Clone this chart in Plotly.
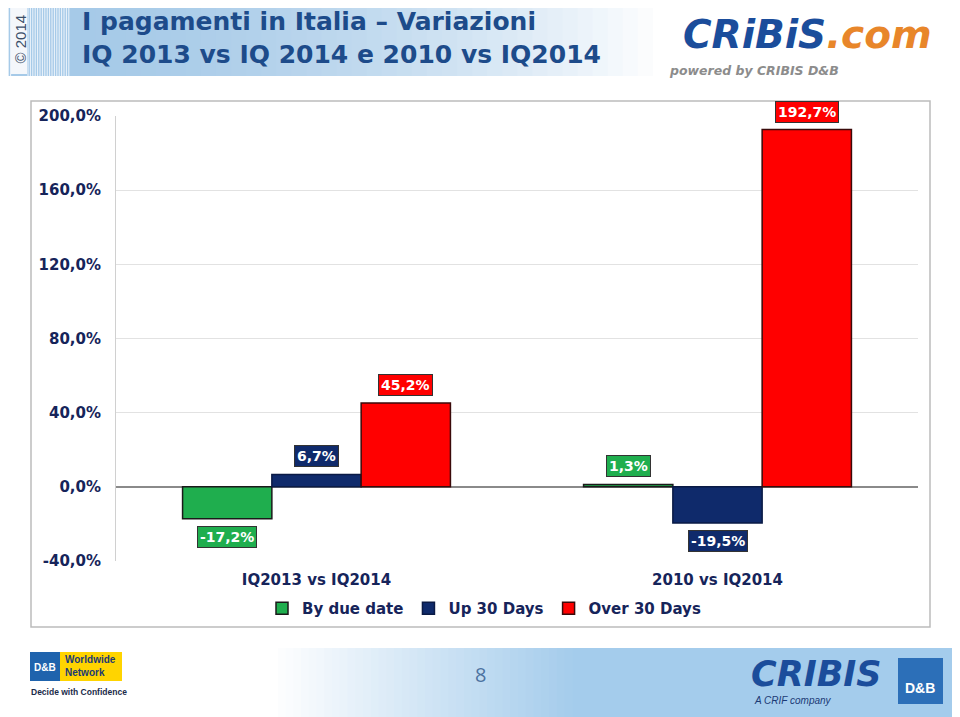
import plotly.graph_objects as go

# ---------------- data ----------------
categories = ["IQ2013 vs IQ2014", "2010 vs IQ2014"]
series_names = ["By due date", "Up 30 Days", "Over 30 Days"]
by_due_date = [-17.2, 1.3]
up_30_days = [6.7, -19.5]
over_30_days = [45.2, 192.7]
y_ticks = [-40, 0, 40, 80, 120, 160, 200]

title_line1 = "I pagamenti in Italia – Variazioni"
title_line2 = "IQ 2013 vs IQ 2014 e 2010 vs IQ2014"
page_number = "8"


def pct(v):
    return f"{v:.1f}%".replace(".", ",")


y_tick_text = [pct(v) for v in y_ticks]

# ---------------- styling ----------------
series_values = [by_due_date, up_30_days, over_30_days]
colors = ["#1fae4e", "#0f2a6b", "#ff0000"]
outlines = ["#1a1a1a", "#0a1a45", "#3a0a0a"]
NAVY = "#16245a"
LABEL_FONT = "DejaVu Sans"

OFF = 8                      # page body margin of the browser
W, H = 960, 717
L, R, T, B = 116, 918, 116, 561   # plot area in page pixels
BARGAP = 0.332


def px(x):
    return (x - L) / (R - L)


def py(y):
    return (B - y) / (B - T)


fig = go.Figure()
for name, vals, c, oc in zip(series_names, series_values, colors, outlines):
    fig.add_bar(x=categories, y=vals, name=name,
                marker=dict(color=c, line=dict(color=oc, width=1.5)))

annotations = []
w = (1 - BARGAP) / 3
for j, (vals, c) in enumerate(zip(series_values, colors)):
    for i, v in enumerate(vals):
        annotations.append(dict(
            x=i + (j - 1) * w, y=v, xref="x", yref="y",
            text=f"<b>{pct(v)}</b>", showarrow=False,
            yanchor="bottom" if v >= 0 else "top",
            yshift=7 if v >= 0 else -7,
            font=dict(family=LABEL_FONT, size=14, color="white"),
            bgcolor=c, bordercolor="#333333", borderwidth=1, borderpad=2,
        ))


def rect(x0, x1, y0, y1, fill, line=None, layer="below"):
    return dict(type="rect", xref="paper", yref="paper",
                x0=px(x0), x1=px(x1), y0=py(y1), y1=py(y0),
                line=line or dict(width=0), fillcolor=fill, layer=layer)


shapes = []
# header gradient band
x0, x1, n = 5, 668, 44
c0 = (166, 202, 232)
for k in range(n):
    t = k / (n - 1)
    f = max(0.0, (t - 0.05) / 0.95) ** 1.8
    col = tuple(int(c0[m] + (255 - c0[m]) * f) for m in range(3))
    shapes.append(rect(x0 + (x1 - x0) * k / n, x0 + (x1 - x0) * (k + 1) / n + 1, 3, 76,
                       f"rgb{col}"))
# stripes around the copyright mark
for k in range(3):
    xx = 6 + k * 2.3
    shapes.append(dict(type="line", xref="paper", yref="paper", x0=px(xx), x1=px(xx),
                       y0=py(76), y1=py(3), line=dict(color="#eef4fb", width=1), layer="below"))
for k in range(18):
    xx = 28 + k * 2.4
    shapes.append(dict(type="line", xref="paper", yref="paper", x0=px(xx), x1=px(xx),
                       y0=py(76), y1=py(3), line=dict(color="#eef4fb", width=1), layer="below"))
shapes.append(rect(11, 27, 5, 74, "#f4f7fb"))
# footer gradient band
fx0, fx1, n = 270, 580, 40
c1 = (164, 204, 236)
for k in range(n):
    t = k / (n - 1)
    col = tuple(int(255 + (c1[m] - 255) * t) for m in range(3))
    shapes.append(rect(fx0 + (fx1 - fx0) * k / n, fx0 + (fx1 - fx0) * (k + 1) / n + 1,
                       648, 717, f"rgb{col}"))
shapes.append(rect(fx1, 960, 648, 717, f"rgb{c1}"))
# chart frame
shapes.append(rect(31, 930, 101, 627, "rgba(0,0,0,0)", line=dict(color="#bcbcbc", width=1.5)))
# footer logo boxes
shapes.append(rect(30, 60, 652, 681, "#1f63ad", layer="above"))
shapes.append(rect(60, 122, 652, 681, "#ffd400", layer="above"))
shapes.append(rect(898, 943, 658, 704, "#2c6fb8", layer="above"))

TITLE_COL = "#1d4b8a"


def note(x, y, text, size, color, family="Liberation Sans", xanchor="left", **kw):
    return dict(x=px(x), y=py(y), xref="paper", yref="paper", xanchor=xanchor,
                yanchor="middle", text=text, showarrow=False,
                font=dict(family=family, size=size, color=color), **kw)


annotations += [
    note(80, 38, f"<b>{title_line1}<br>{title_line2}</b>", 25, TITLE_COL,
         family="DejaVu Sans", align="left"),
    note(19.5, 39, "© 2014", 15, "#3b4f6a", xanchor="center", textangle=-90),
    note(681, 35, "<b><i>CRiBiS</i></b><span style='color:#e8862a'><b><i>.com</i></b></span>",
         39, "#1b4d9b", family="DejaVu Sans"),
    note(667, 70, "<b><i>powered by CRIBIS D&amp;B</i></b>", 12.5, "#8c8c8c",
         family="DejaVu Sans"),
    note(480, 674, page_number, 20, "#4c72a0", family="Open Sans", xanchor="center"),
    note(45, 667, "<b>D&amp;B</b>", 10, "white", xanchor="center"),
    note(63, 666, "<b>Worldwide<br>Network</b>", 10, "#1b3a75", align="left"),
    note(29, 692, "<b>Decide with Confidence</b>", 8.5, "#1b2b4a"),
    note(749, 674, "<b><i>CRIBIS</i></b>", 35, "#1b4d9b", family="DejaVu Sans"),
    note(752, 700, "<i>A CRIF company</i>", 10, "#1b3a75"),
    note(920, 688, "<b>D&amp;B</b>", 14, "white", xanchor="center"),
]

fig.update_layout(
    width=W - OFF, height=H - OFF,
    margin=dict(l=L - OFF, r=W - R, t=T - OFF, b=H - B, autoexpand=False),
    paper_bgcolor="white", plot_bgcolor="white",
    barmode="group", bargap=BARGAP, bargroupgap=0,
    showlegend=True,
    legend=dict(orientation="h", x=px(262), y=py(592), xanchor="left", yanchor="top",
                font=dict(family=LABEL_FONT, size=15, color=NAVY, weight="bold"),
                bgcolor="rgba(0,0,0,0)", itemwidth=30),
    xaxis=dict(showgrid=False, showline=False, ticks="",
               tickfont=dict(family=LABEL_FONT, size=15, color=NAVY, weight="bold"),
               ticklabelstandoff=8),
    yaxis=dict(range=[-40, 200], tickmode="array", tickvals=y_ticks, ticktext=y_tick_text,
               showgrid=True, gridcolor="#e2e2e2", gridwidth=1,
               zeroline=True, zerolinecolor="#8a8a8a", zerolinewidth=2,
               showline=True, linecolor="#d0d0d0", linewidth=1,
               tickfont=dict(family=LABEL_FONT, size=15, color=NAVY, weight="bold"),
               ticklabelstandoff=11),
    annotations=annotations,
    shapes=shapes,
)

fig.write_html("out.html")
